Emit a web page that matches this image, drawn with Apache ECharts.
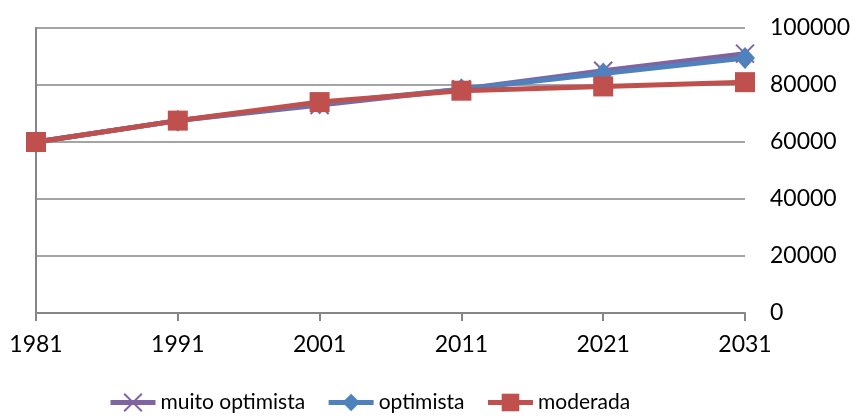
<!DOCTYPE html>
<html>
<head>
<meta charset="utf-8">
<script src="https://cdn.jsdelivr.net/npm/echarts@6/dist/echarts.min.js"></script>
<style>
  html, body { margin: 0; padding: 0; background: #fff; }
  #chart { width: 854px; height: 417px; }
</style>
</head>
<body>
<div id="chart"></div>
<script>
  // 数据
  var years = ['1981', '1991', '2001', '2011', '2021', '2031'];
  var muitoOptimista = [60000, 67500, 73000, 78500, 85000, 91000];
  var optimista = [60000, 67500, 73500, 78500, 84000, 89500];
  var moderada = [60000, 67500, 74000, 78000, 79500, 81000];

  var fontFamily = 'Lato';
  var axisGray = '#868686';

  var myChart = echarts.init(document.getElementById('chart'));

  var option = {
    animation: false,
    grid: { left: 36, right: 109, top: 28, bottom: 104 },
    legend: {
      top: 387,
      left: 103,
      itemWidth: 45,
      itemHeight: 22,
      itemGap: 21,
      lineStyle: { width: 5 },
      textStyle: { fontFamily: fontFamily, fontSize: 21, color: '#000' },
      data: ['muito optimista', 'optimista', 'moderada']
    },
    xAxis: {
      type: 'category',
      boundaryGap: false,
      data: years,
      axisLine: { lineStyle: { color: axisGray, width: 2 } },
      axisTick: { show: true, length: 8, lineStyle: { color: axisGray, width: 2 } },
      axisLabel: { fontFamily: fontFamily, fontSize: 23, color: '#000', margin: 20 }
    },
    yAxis: [{
      type: 'value',
      position: 'right',
      min: 0,
      max: 100000,
      interval: 20000,
      axisLine: { show: false },
      axisTick: { show: false },
      splitLine: { lineStyle: { color: axisGray, width: 1.5 } },
      axisLabel: {
        fontFamily: fontFamily, fontSize: 23, color: '#000', margin: 25,
        formatter: function(v) { return String(v); }
      }
    }, {
      //左侧竖线
      type: 'value',
      position: 'left',
      min: 0,
      max: 100000,
      axisLine: { show: true, lineStyle: { color: axisGray, width: 2 } },
      axisTick: { show: false },
      axisLabel: { show: false },
      splitLine: { show: false }
    }],
    series: [{
      name: 'muito optimista',
      type: 'line',
      data: muitoOptimista,
      symbol: 'path://M0,0 L10,10 M10,0 L0,10',
      symbolSize: 18,
      lineStyle: { color: '#8064A2', width: 5 },
      itemStyle: { color: '#8064A2', borderColor: '#8064A2', borderWidth: 2 }
    }, {
      name: 'optimista',
      type: 'line',
      data: optimista,
      symbol: 'diamond',
      symbolSize: [20, 22],
      lineStyle: { color: '#4F81BD', width: 5 },
      itemStyle: { color: '#4F81BD' }
    }, {
      name: 'moderada',
      type: 'line',
      data: moderada,
      symbol: 'rect',
      symbolSize: 20,
      lineStyle: { color: '#C0504D', width: 5 },
      itemStyle: { color: '#C0504D' }
    }]
  };

  myChart.setOption(option);
</script>
</body>
</html>
